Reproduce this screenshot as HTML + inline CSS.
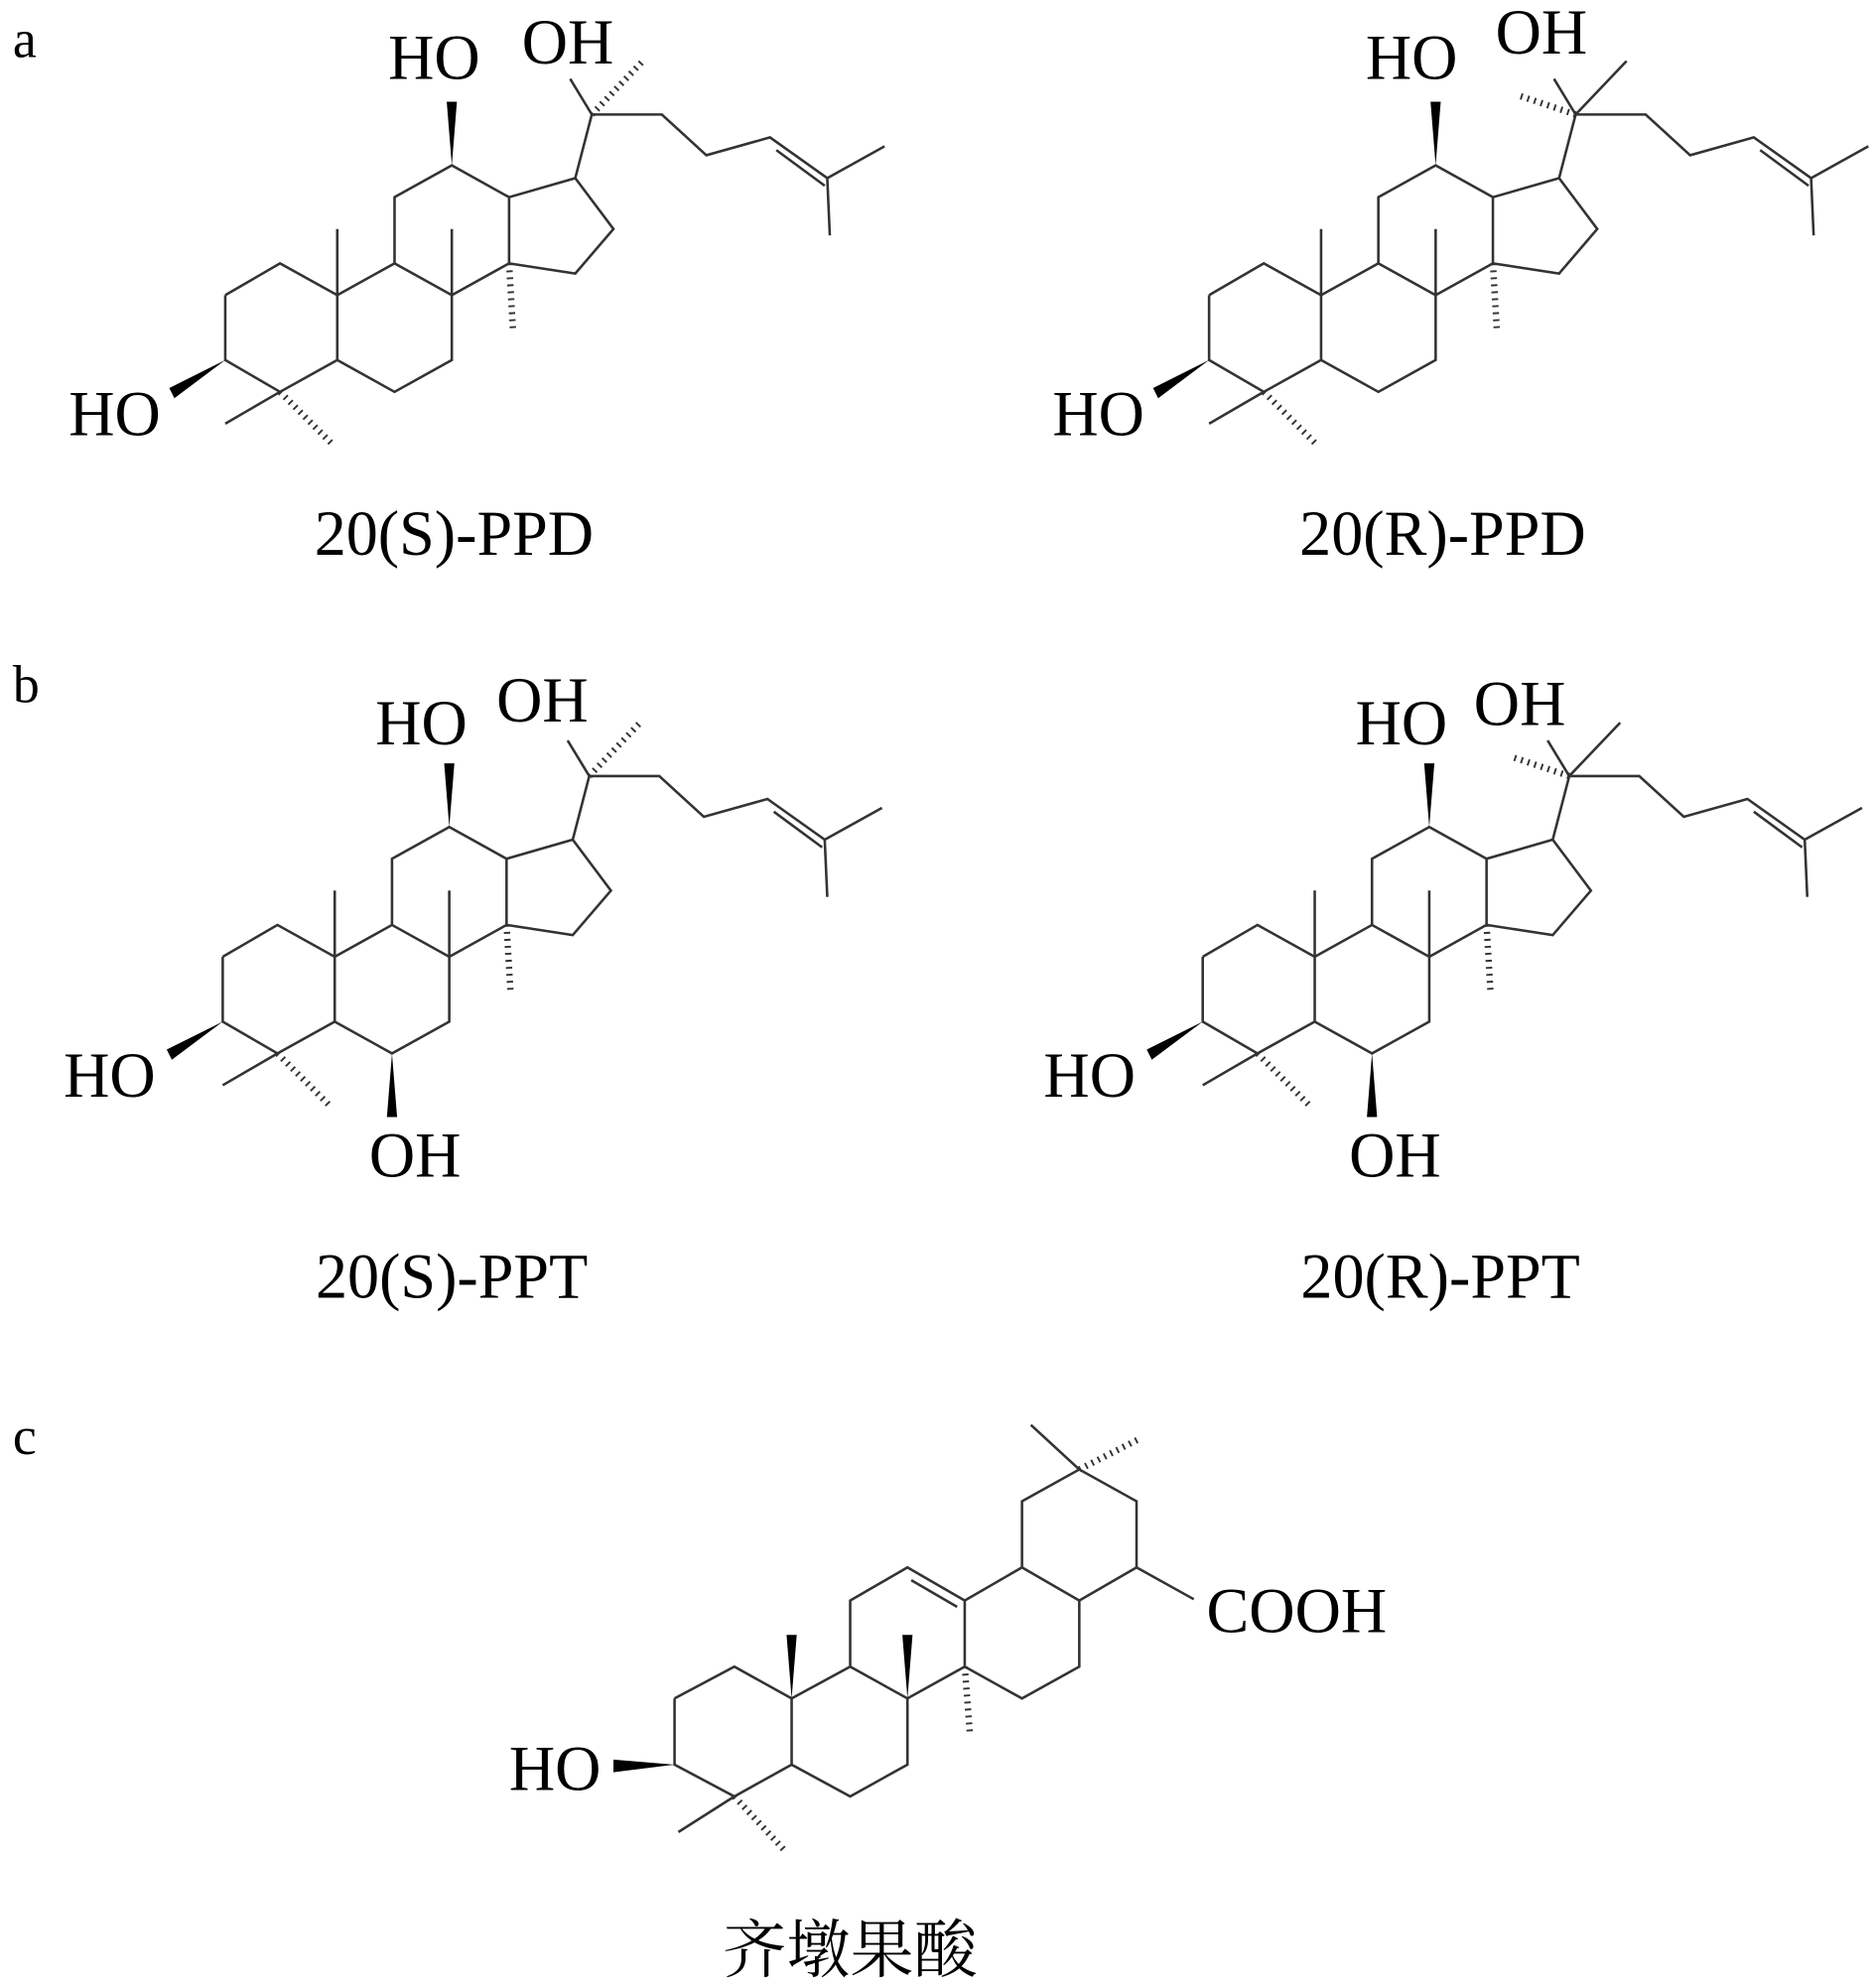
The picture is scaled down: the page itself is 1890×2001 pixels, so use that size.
<!DOCTYPE html>
<html><head><meta charset="utf-8"><style>
html,body{margin:0;padding:0;background:#fff;}
svg{display:block;}
text{font-family:"Liberation Serif","Noto Serif CJK SC",serif;fill:#000;}
</style></head><body>
<svg width="1890" height="2001" viewBox="0 0 1474 1561" preserveAspectRatio="none" xmlns="http://www.w3.org/2000/svg">
<defs>
<g id="core" fill="none" stroke="#333" stroke-width="2">
  <polyline points="177,232 220,207 265,232 265,283 220,308 177,283 177,232"/>
  <polyline points="265,232 310,207 355,232 355,283 310,308 265,283"/>
  <polyline points="310,207 310,155 355,130 400,155 400,207 355,232"/>
  <polyline points="400,155 452,140 482,180 452,215 400,207"/>
  <line x1="265" y1="232" x2="265" y2="180"/>
  <line x1="355" y1="232" x2="355" y2="180"/>
  <line x1="452" y1="140" x2="465" y2="90"/>
  <polyline points="465,90 520,90 555,122 605,108 650,140 695,115"/>
  <line x1="610" y1="118" x2="648" y2="146"/>
  <line x1="650" y1="140" x2="652" y2="185"/>
  <line x1="465" y1="90" x2="448" y2="62"/>
  <line x1="220" y1="308" x2="177" y2="333"/>
  <line x1="400" y1="207" x2="403" y2="258" stroke-dasharray="1.5,4" stroke-width="5"/>
  <line x1="220" y1="308" x2="260" y2="348" stroke-dasharray="1.5,4" stroke-width="5"/>
  <polygon points="355,130 351,80 359,80" fill="#000" stroke="none"/>
  <polygon points="177,283 133,305 137,313" fill="#000" stroke="none"/>
</g>
</defs>

<text x="10" y="45" font-size="42">a</text>
<text x="10" y="552" font-size="42">b</text>
<text x="10" y="1143" font-size="42">c</text>

<g font-size="50">
<!-- a left -->
<use href="#core"/>
<line x1="465" y1="90" x2="505" y2="48" stroke="#333" stroke-width="5" stroke-dasharray="1.5,4"/>
<text x="305" y="62">HO</text>
<text x="410" y="50">OH</text>
<text x="54" y="342">HO</text>
<text x="247" y="436">20(S)-PPD</text>

<!-- a right -->
<g transform="translate(773,0)">
<use href="#core"/>
<line x1="465" y1="90" x2="505" y2="48" stroke="#333" stroke-width="2"/>
<line x1="465" y1="90" x2="420" y2="75" stroke="#333" stroke-width="5" stroke-dasharray="1.5,4"/>
<text x="300" y="62">HO</text>
<text x="402" y="42">OH</text>
<text x="54" y="342">HO</text>
<text x="248" y="436">20(R)-PPD</text>
</g>

<!-- b left -->
<g transform="translate(-2,520)">
<use href="#core"/>
<line x1="465" y1="90" x2="505" y2="48" stroke="#333" stroke-width="5" stroke-dasharray="1.5,4"/>
<polygon points="310,308 306,358 314,358" fill="#000"/>
<text x="297" y="65">HO</text>
<text x="392" y="47">OH</text>
<text x="52" y="342">HO</text>
<text x="292" y="405">OH</text>
<text x="250" y="500">20(S)-PPT</text>
</g>

<!-- b right -->
<g transform="translate(768,520)">
<use href="#core"/>
<line x1="465" y1="90" x2="505" y2="48" stroke="#333" stroke-width="2"/>
<line x1="465" y1="90" x2="420" y2="75" stroke="#333" stroke-width="5" stroke-dasharray="1.5,4"/>
<polygon points="310,308 306,358 314,358" fill="#000"/>
<text x="297" y="65">HO</text>
<text x="390" y="50">OH</text>
<text x="52" y="342">HO</text>
<text x="292" y="405">OH</text>
<text x="254" y="500">20(R)-PPT</text>
</g>

<!-- c -->
<g fill="none" stroke="#333" stroke-width="2">
  <polyline points="530,1335 577,1310 622,1335 622,1387 577,1412 530,1387 530,1335"/>
  <polyline points="622,1335 668,1310 713,1335 713,1387 668,1412 622,1387"/>
  <polyline points="668,1310 668,1258 713,1232 758,1258 758,1310 713,1335"/>
  <line x1="716" y1="1242" x2="752" y2="1263"/>
  <polyline points="758,1258 803,1232 848,1258 848,1310 803,1335 758,1310"/>
  <polyline points="803,1232 803,1180 848,1155 893,1180 893,1232 848,1258"/>
  <line x1="893" y1="1232" x2="938" y2="1257"/>
  <line x1="848" y1="1155" x2="810" y2="1120"/>
  <line x1="848" y1="1155" x2="897" y2="1130" stroke-width="5" stroke-dasharray="1.5,4"/>
  <line x1="758" y1="1310" x2="762" y2="1362" stroke-width="5" stroke-dasharray="1.5,4"/>
  <line x1="577" y1="1412" x2="533" y2="1440"/>
  <line x1="577" y1="1412" x2="617" y2="1455" stroke-width="5" stroke-dasharray="1.5,4"/>
</g>
<polygon points="622,1335 618,1285 626,1285" fill="#000"/>
<polygon points="713,1335 709,1285 717,1285" fill="#000"/>
<polygon points="530,1387 482,1383 482,1393" fill="#000"/>
<text x="948" y="1283">COOH</text>
<text x="400" y="1407">HO</text>
<text x="568" y="1550">齐墩果酸</text>
</g>
</svg>
</body></html>
